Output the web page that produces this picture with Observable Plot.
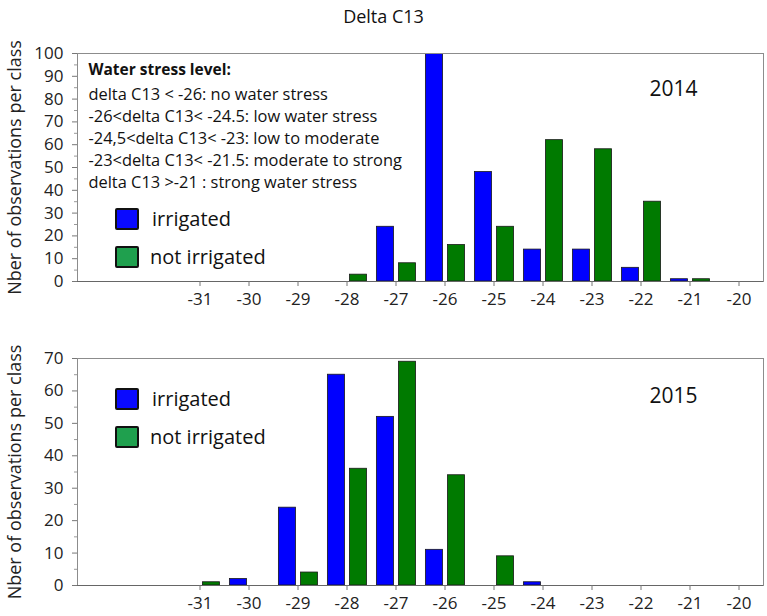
<!DOCTYPE html>
<html><head><meta charset="utf-8">
<script src="https://cdn.jsdelivr.net/npm/d3@7"></script>
<script src="https://cdn.jsdelivr.net/npm/@observablehq/plot@0.6"></script>
<style>
body{margin:0;background:#fff;font-family:"Open Sans",sans-serif;}
#wrap{position:relative;width:767px;height:616px;overflow:hidden;background:#fff}
#c1,#c2{position:absolute;left:0}
#c1{top:0}
#c2{top:310px}
#title{position:absolute;left:0;width:767px;top:4px;text-align:center;font-size:18px;color:#111;z-index:5}
.sw{position:absolute;width:20px;height:18px;border:2px solid #111;border-radius:2px;z-index:5;left:115px}
.lt{position:absolute;font-size:20px;color:#111;line-height:1;z-index:5}
</style></head><body>
<div id="wrap">
  <div id="title">Delta C13</div>
  <div id="c1"></div>
  <div id="c2"></div>
</div>
<script>
const title = "Delta C13";
const yLabel = "Nber of observations per class";
const seriesNames = ["irrigated", "not irrigated"];
const seriesFill = ["#0000ff", "#007a00"];
const legendFill = ["#0a0aff", "#1fa04e"];
const bins = [-31, -30, -29, -28, -27, -26, -25, -24, -23, -22, -21, -20];
const irrigated2014 = [0, 0, 0, 0, 24, 100, 48, 14, 14, 6, 1, 0];
const notIrrigated2014 = [0, 0, 0, 3, 8, 16, 24, 62, 58, 35, 1, 0];
const irrigated2015 = [0, 2, 24, 65, 52, 11, 0, 1, 0, 0, 0, 0];
const notIrrigated2015 = [1, 0, 4, 36, 69, 34, 9, 0, 0, 0, 0, 0];
const noteTitle = "Water stress level:";
const noteLines = [
  "delta C13 < -26: no water stress",
  "-26<delta C13< -24.5: low water stress",
  "-24,5<delta C13< -23: low to moderate",
  "-23<delta C13< -21.5: moderate to strong",
  "delta C13 >-21 : strong water stress"
];

function chart({irr, notIrr, yMax, height, marginTop, marginBottom, year, yearDy, note}) {
  const rows = [];
  bins.forEach((b, i) => {
    if (irr[i] > 0) rows.push({bin: b, n: irr[i], s: 0});
    if (notIrr[i] > 0) rows.push({bin: b, n: notIrr[i], s: 1});
  });
  const marks = [
    Plot.rectY(rows, {
      x1: d => d.s === 0 ? d.bin - 0.39 : d.bin + 0.06,
      x2: d => d.s === 0 ? d.bin - 0.04 : d.bin + 0.41,
      y1: 0, y2: "n",
      fill: d => seriesFill[d.s],
      stroke: "#1a1a1a", strokeWidth: 0.8, clip: true
    }),
    Plot.frame({stroke: "#8c8c8c"}),
    Plot.ruleY([0], {stroke: "#666"}),
    Plot.axisX(bins, {tickSize: 5, tickPadding: 6, tickFormat: d => String(d), stroke: "#777", label: null, fill: "#222"}),
    Plot.axisY(d3.range(0, yMax + 1, 10), {tickSize: 5, tickPadding: 9, stroke: "#777", label: null, fill: "#222"}),
    Plot.axisY(d3.range(5, yMax, 10), {tickSize: 3, tickFormat: () => "", stroke: "#999", label: null}),
    Plot.text([yLabel], {frameAnchor: "left", rotate: -90, dx: -62, textAnchor: "middle", fontSize: 18, fill: "#222"}),
    Plot.text([year], {frameAnchor: "top-right", textAnchor: "end", dx: -66, dy: yearDy, fontSize: 21, fill: "#111"})
  ];
  if (note) {
    marks.push(Plot.text([noteTitle], {frameAnchor: "top-left", textAnchor: "start", dx: 11, dy: 10, fontSize: 15.5, fontWeight: "bold", fill: "#111"}));
    marks.push(Plot.text([noteLines.join("\n")], {frameAnchor: "top-left", textAnchor: "start", dx: 11, dy: 31, fontSize: 16.4, lineHeight: 1.34, fill: "#111"}));
  }
  return Plot.plot({
    width: 767, height, marginLeft: 77, marginRight: 4, marginTop, marginBottom,
    style: {fontFamily: "Open Sans", fontSize: "17px", color: "#222", background: "transparent"},
    x: {domain: [-33.5, -19.5]},
    y: {domain: [0, yMax]},
    marks
  });
}

document.getElementById("c1").append(chart({irr: irrigated2014, notIrr: notIrrigated2014, yMax: 100, height: 312, marginTop: 53, marginBottom: 31, year: "2014", yearDy: 28, note: true}));
document.getElementById("c2").append(chart({irr: irrigated2015, notIrr: notIrrigated2015, yMax: 70, height: 306, marginTop: 48, marginBottom: 31, year: "2015", yearDy: 30, note: false}));

// legends
const wrap = document.getElementById("wrap");
function legend(tops) {
  seriesNames.forEach((name, i) => {
    const sw = document.createElement("div");
    sw.className = "sw";
    sw.style.top = tops[i] + "px";
    sw.style.background = legendFill[i];
    wrap.append(sw);
    const t = document.createElement("div");
    t.className = "lt";
    t.textContent = name;
    t.style.left = (i === 0 ? 152 : 150) + "px";
    t.style.top = (tops[i] + 1) + "px";
    wrap.append(t);
  });
}
legend([208, 246]);
legend([388, 426]);
</script>
</body></html>
